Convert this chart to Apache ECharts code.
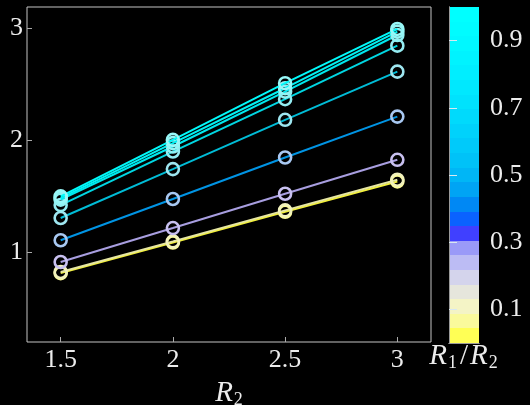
<!DOCTYPE html>
<html>
<head>
<meta charset="utf-8">
<script src="https://cdn.jsdelivr.net/npm/echarts@6/dist/echarts.min.js"></script>
<style>
  html, body { margin: 0; padding: 0; background: #000; }
  #chart { width: 530px; height: 405px; }
</style>
</head>
<body>
<div id="chart"></div>
<script>
// R2 values on the horizontal axis
const r2Values = [1.5, 2, 2.5, 3];
const xTicks = [1.5, 2, 2.5, 3];
const yTicks = [1, 2, 3];
const colorbarTicks = [0.1, 0.3, 0.5, 0.7, 0.9];

// one curve per R1/R2 ratio, lowest first
const ratioNames = ['0.02', '0.1', '0.28', '0.42', '0.52', '0.62', '0.74', '0.86', '1'];
const curveA = [0.815, 1.088, 1.362, 1.633];
const curveB = [0.825, 1.098, 1.375, 1.648];
const curveC = [0.914, 1.217, 1.523, 1.826];
const curveD = [1.108, 1.476, 1.847, 2.212];
const curveE = [1.307, 1.743, 2.183, 2.613];
const curveF = [1.422, 1.900, 2.367, 2.845];
const curveG = [1.470, 1.945, 2.435, 2.940];
const curveH = [1.485, 1.975, 2.465, 2.970];
const curveI = [1.500, 2.004, 2.510, 2.994];
const curves = [curveA, curveB, curveC, curveD, curveE, curveF, curveG, curveH, curveI];

const lineColors = ['#f2f03c', '#e6e6a4', '#a89ee0', '#0094e4', '#00bcd6', '#00d6e2', '#00e8ee', '#00f2f4', '#00fafa'];
const markerColors = ['#fcfc98', '#f2f2bc', '#c8c0f0', '#a8c8f2', '#9ee6f0', '#94ecf2', '#90f0f2', '#94f4f4', '#98f8f8'];

// colorbar bands, bottom to top (equal steps over 0..1)
const bandColors = [
  '#ffff55', '#fafa9c', '#f4f4c6', '#e6e6dc', '#d4d4ec', '#bcbcf4', '#9a9af8', '#4040ff',
  '#0a62ff', '#0088f4', '#00a4f4', '#00b6f6', '#00c2f8', '#00cafa', '#00d2fb', '#00dafc',
  '#00e2fd', '#00e8fe', '#00eeff', '#00f3ff', '#00f8ff', '#00fcff', '#00ffff'
];
const nBands = bandColors.length;
const bandData = bandColors.map((c, i) => [i / nBands, (i + 1) / nBands, i]);

const textColor = '#ececec';
const serif = 'Liberation Serif';
const frameColor = '#c4c4c4';
const tickFont = 26;

const chart = echarts.init(document.getElementById('chart'), null, { renderer: 'canvas' });

const lineSeries = curves.map((vals, k) => ({
  name: ratioNames[k],
  type: 'line',
  xAxisIndex: 0,
  yAxisIndex: 0,
  data: r2Values.map((x, i) => [x, vals[i]]),
  symbol: 'circle',
  symbolSize: 12,
  showSymbol: true,
  lineStyle: { color: lineColors[k], width: 2 },
  itemStyle: { color: 'rgba(0,0,0,0)', borderColor: markerColors[k], borderWidth: 2.6 },
  emphasis: { disabled: true },
  z: 2 + k
}));

// colorbar cells, snapped to whole pixels so neighbouring bands meet cleanly
function renderBand(params, api) {
  const lo = api.value(0);
  const hi = api.value(1);
  const pLo = api.coord([0, lo]);
  const pHi = api.coord([1, hi]);
  const x = Math.round(pLo[0]);
  const y = Math.round(pHi[1]);
  return {
    type: 'rect',
    shape: { x: x, y: y, width: Math.round(pHi[0]) - x, height: Math.round(pLo[1]) - y },
    style: { fill: bandColors[api.value(2)] }
  };
}

const option = {
  backgroundColor: '#000',
  animation: false,
  grid: [
    { left: 27, top: 7, width: 404, height: 335, outerBoundsMode: 'none', containLabel: false, show: true, borderColor: frameColor, borderWidth: 1, backgroundColor: 'transparent' },
    { left: 449, top: 7, width: 30, height: 336, outerBoundsMode: 'none', containLabel: false, show: false }
  ],
  xAxis: [
    {
      gridIndex: 0, type: 'value', min: 1.35, max: 3.15,
      axisLine: { show: false },
      splitLine: { show: false },
      axisTick: { show: true, inside: true, length: 5, customValues: xTicks, lineStyle: { color: '#aaa' } },
      axisLabel: { customValues: xTicks, margin: 5, color: textColor, fontFamily: serif, fontSize: tickFont, formatter: v => String(v) },
      name: '{i|R}{s|2}',
      nameLocation: 'middle',
      nameGap: 36,
      nameTextStyle: {
        rich: {
          i: { fontFamily: serif, fontStyle: 'italic', fontSize: 29, color: textColor },
          s: { fontFamily: serif, fontSize: 18, color: textColor, padding: [13, 0, 0, 1] }
        }
      }
    },
    {
      gridIndex: 1, type: 'value', min: 0, max: 1, position: 'bottom', z: 6,
      axisLine: { show: true, lineStyle: { color: '#9a9a9a', width: 1 } },
      axisTick: { show: false }, axisLabel: { show: false }, splitLine: { show: false },
      name: '{i|R}{s|1}{n|/}{i|R}{s|2}',
      nameLocation: 'middle',
      nameGap: -2,
      nameTextStyle: {
        rich: {
          i: { fontFamily: serif, fontStyle: 'italic', fontSize: 29, color: textColor },
          n: { fontFamily: serif, fontSize: 29, color: textColor, padding: [0, 2, 0, 2] },
          s: { fontFamily: serif, fontSize: 18, color: textColor, padding: [13, 1, 0, 1] }
        }
      }
    },
    {
      gridIndex: 1, type: 'value', min: 0, max: 1, position: 'top', z: 6,
      axisLine: { show: true, lineStyle: { color: '#9a9a9a', width: 1 } },
      axisTick: { show: false }, axisLabel: { show: false }, splitLine: { show: false }
    }
  ],
  yAxis: [
    {
      gridIndex: 0, type: 'value', min: 0.2, max: 3.19,
      axisLine: { show: false },
      splitLine: { show: false },
      axisTick: { show: true, inside: true, length: 5, customValues: yTicks, lineStyle: { color: '#aaa' } },
      axisLabel: { customValues: yTicks, margin: 4, color: textColor, fontFamily: serif, fontSize: tickFont, formatter: v => String(v) }
    },
    {
      gridIndex: 1, type: 'value', min: 0, max: 1, position: 'right', z: 6,
      axisLine: { show: true, lineStyle: { color: '#b0b0b0', width: 1 } },
      axisTick: { show: false },
      splitLine: { show: false },
      axisLabel: { customValues: colorbarTicks, margin: 11, color: textColor, fontFamily: serif, fontSize: tickFont, formatter: v => v.toFixed(1) }
    },
    {
      gridIndex: 1, type: 'value', min: 0, max: 1, position: 'left', z: 6,
      axisLine: { show: true, lineStyle: { color: '#9a9a9a', width: 1 } },
      axisTick: { show: true, inside: true, length: 8, customValues: colorbarTicks, lineStyle: { color: '#d8e8f0', width: 1 } },
      axisLabel: { show: false },
      splitLine: { show: false }
    }
  ],
  series: [
    ...lineSeries,
    {
      type: 'custom',
      xAxisIndex: 1,
      yAxisIndex: 1,
      silent: true,
      renderItem: renderBand,
      encode: { y: [0, 1] },
      data: bandData,
      z: 2
    }
  ]
};

chart.setOption(option);
</script>
</body>
</html>
